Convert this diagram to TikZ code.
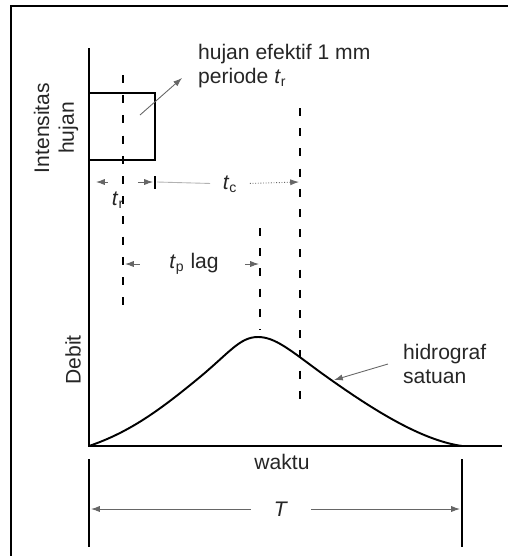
\documentclass[tikz,border=0pt]{standalone}
\usepackage{fontspec}
\setmainfont{Liberation Sans}
\usetikzlibrary{arrows.meta}

\begin{document}
\begin{tikzpicture}[x=0.02cm, y=-0.02cm,
  frame/.style={line width=1.4pt},
  axis/.style={line width=1.1pt},
  guide/.style={line width=1pt, dash pattern=on 4.5pt off 7pt},
  dim/.style={gray!80!black, line width=0.5pt, -{Latex[length=5pt,width=3.5pt]}},
  lbl/.style={font=\fontsize{12}{14}\selectfont, text=black!85, inner sep=1pt}]
  \useasboundingbox (0,0) rectangle (508,556);
  \coordinate (f1) at (11,556);
  \coordinate (f2) at (11,6);
  \coordinate (f3) at (508,6);
  \coordinate (o) at (89,446);
  \coordinate (ytop) at (89,48);
  \coordinate (xend) at (502,446);
  \coordinate (b1) at (89,93);
  \coordinate (b2) at (155,160);
  \coordinate (d1a) at (123,75);
  \coordinate (d1b) at (123,305);
  \coordinate (d2a) at (260,228);
  \coordinate (d2b) at (260,330);
  \coordinate (d3a) at (300,108);
  \coordinate (d3b) at (300,410);
  \coordinate (k1) at (155,176);
  \coordinate (k2) at (155,189);
  \coordinate (r0) at (96,182);
  \coordinate (r1) at (108,182);
  \coordinate (r2) at (138,182);
  \coordinate (r3) at (153,182);
  \coordinate (c0) at (157,182);
  \coordinate (c3) at (299,182);
  \coordinate (p0) at (125,264);
  \coordinate (p1) at (140,264);
  \coordinate (p2) at (245,264);
  \coordinate (p3) at (259,264);
  \coordinate (a1) at (140,115);
  \coordinate (a2) at (182,78);
  \coordinate (h1) at (388,364);
  \coordinate (h2) at (334,380);
  \coordinate (pk) at (258,337);
  \coordinate (q1) at (200,377);
  \coordinate (q2) at (320,372);
  \coordinate (qend) at (462,446);
  \coordinate (Ta) at (89,459);
  \coordinate (Tb) at (89,547);
  \coordinate (Tc) at (462,459);
  \coordinate (Td) at (462,547);
  \coordinate (Tl) at (91,509);
  \coordinate (Tr) at (460,509);

  \node[lbl, rotate=90, align=center] (int) at (56,128) {Intensitas\\hujan};
  \node[lbl, rotate=90] (deb) at (73,360) {Debit};
  \node[lbl] (wkt) at (282,462) {waktu};
  \node[lbl, align=left, anchor=west] (hef) at (196,66) {hujan efektif 1 mm\\periode \textit{t}\textsubscript{r}};
  \node[lbl, align=left, anchor=west] (hid) at (401,364) {hidrograf\\satuan};
  \node[lbl] (trlab) at (118,200) {\textit{t}\textsubscript{r}};
  \node[lbl, inner xsep=7pt] (tclab) at (230,184) {\textit{t}\textsubscript{c}};
  \node[lbl] (tplab) at (194,264) {\textit{t}\textsubscript{p} lag};
  \node[lbl, inner xsep=13pt] (Tlab) at (281,509) {\textit{T}};

  \draw[frame] (f1) -- (f2) -- (f3);
  \draw[axis] (ytop) -- (o) -- (xend);
  \draw[line width=0.9pt] (b1) rectangle (b2);
  \draw[guide] (d1a) -- (d1b);
  \draw[guide] (d2a) -- (d2b);
  \draw[guide] (d3a) -- (d3b);
  \draw[axis] (o) .. controls (130,432) and (160,410) .. (q1)
    .. controls (230,352) and (240,337) .. (pk)
    .. controls (275,337) and (290,350) .. (q2)
    .. controls (370,408) and (420,440) .. (qend);
  \draw[dim] (a1) -- (a2);
  \draw[dim] (h1) -- (h2);
  \draw[dim] (r1) -- (r0);
  \draw[dim] (r2) -- (r3);
  \draw[line width=0.8pt] (k1) -- (k2);
  \draw[gray!60, line width=0.5pt] (c0) -- (tclab);
  \draw[dim, densely dotted] (tclab) -- (c3);
  \draw[dim] (p1) -- (p0);
  \draw[dim] (p2) -- (p3);
  \draw[line width=0.9pt] (Ta) -- (Tb);
  \draw[line width=0.9pt] (Tc) -- (Td);
  \draw[dim] (Tlab) -- (Tl);
  \draw[dim] (Tlab) -- (Tr);
\end{tikzpicture}
\end{document}
